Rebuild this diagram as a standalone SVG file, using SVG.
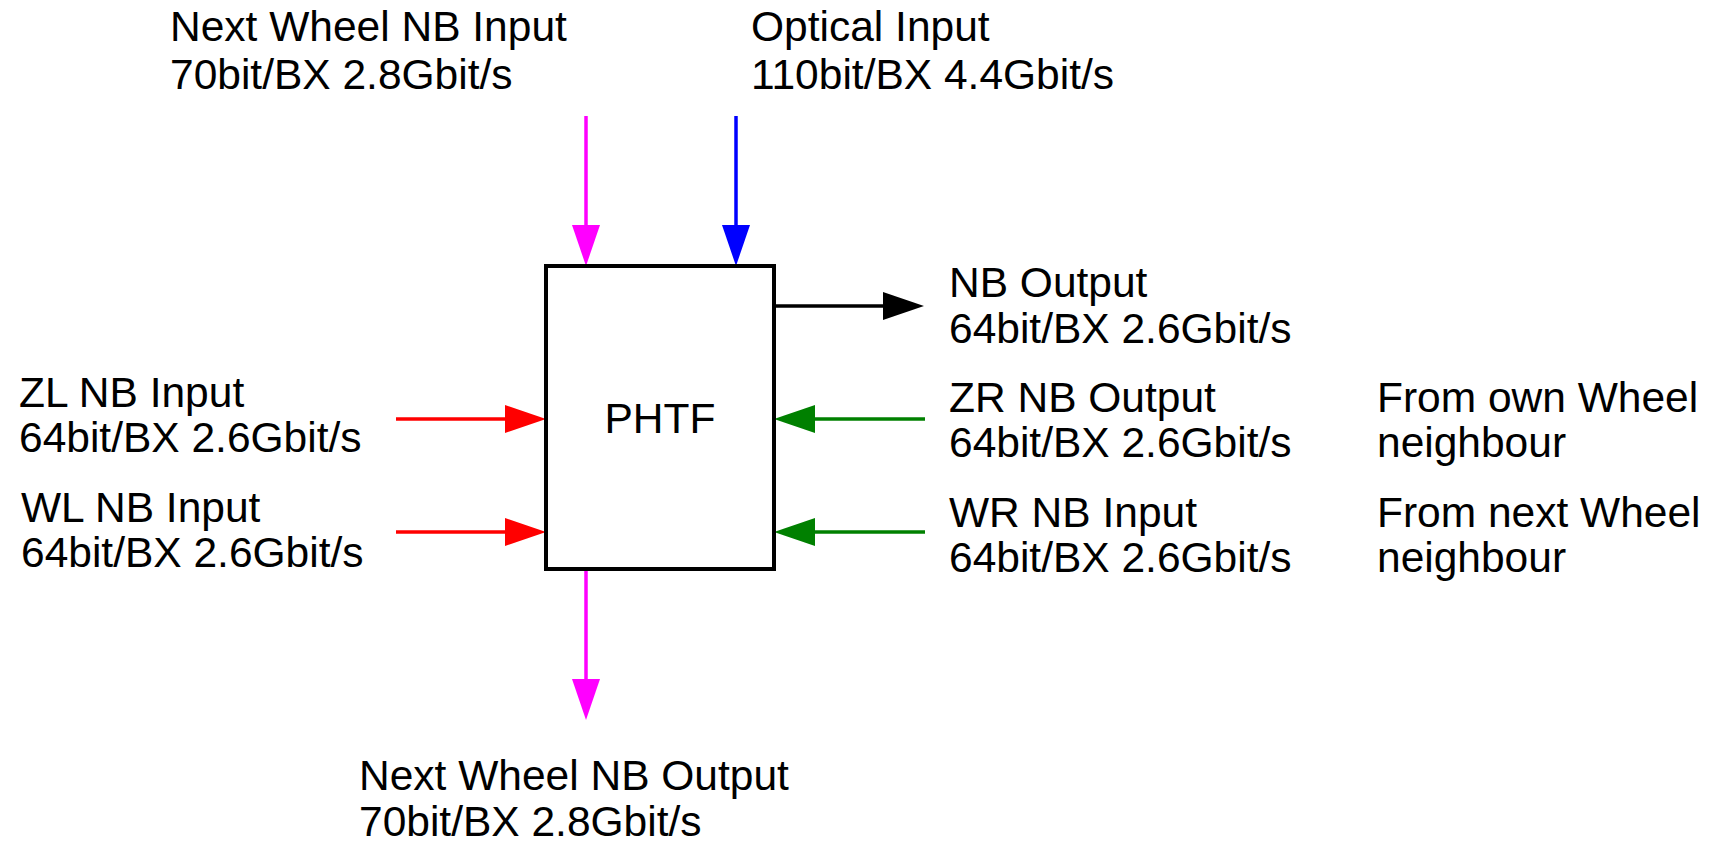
<svg xmlns="http://www.w3.org/2000/svg" width="1720" height="842" viewBox="0 0 1720 842">
<style>
text { font-family: "Liberation Sans", Arial, sans-serif; font-size: 42.5px; fill: #000; }
.c { fill: none; stroke-width: 3.5; }
.box { fill: #fff; stroke: #000; stroke-width: 4; }
</style>
<defs>
<marker id="hm" markerUnits="userSpaceOnUse" markerWidth="42" markerHeight="28" refX="3" refY="14" orient="auto" viewBox="0 0 42 28"><path d="M0,0 L41,14 L0,28 z" fill="#FF00FF"/></marker>
<marker id="hb" markerUnits="userSpaceOnUse" markerWidth="42" markerHeight="28" refX="3" refY="14" orient="auto" viewBox="0 0 42 28"><path d="M0,0 L41,14 L0,28 z" fill="#0000FF"/></marker>
<marker id="hk" markerUnits="userSpaceOnUse" markerWidth="42" markerHeight="28" refX="3" refY="14" orient="auto" viewBox="0 0 42 28"><path d="M0,0 L41,14 L0,28 z" fill="#000000"/></marker>
<marker id="hr" markerUnits="userSpaceOnUse" markerWidth="42" markerHeight="28" refX="3" refY="14" orient="auto" viewBox="0 0 42 28"><path d="M0,0 L41,14 L0,28 z" fill="#FF0000"/></marker>
<marker id="hg" markerUnits="userSpaceOnUse" markerWidth="42" markerHeight="28" refX="3" refY="14" orient="auto" viewBox="0 0 42 28"><path d="M0,0 L41,14 L0,28 z" fill="#008000"/></marker>
</defs>
<rect width="1720" height="842" fill="#fff"/>
<g id="connectors">
<line class="c" x1="586" y1="116" x2="586" y2="228" stroke="#FF00FF" marker-end="url(#hm)"/>
<line class="c" x1="736" y1="116" x2="736" y2="228" stroke="#0000FF" marker-end="url(#hb)"/>
<line class="c" x1="774" y1="306" x2="886" y2="306" stroke="#000000" marker-end="url(#hk)"/>
<line class="c" x1="396" y1="419" x2="508" y2="419" stroke="#FF0000" marker-end="url(#hr)"/>
<line class="c" x1="396" y1="532" x2="508" y2="532" stroke="#FF0000" marker-end="url(#hr)"/>
<line class="c" x1="925" y1="419" x2="812" y2="419" stroke="#008000" marker-end="url(#hg)"/>
<line class="c" x1="925" y1="532" x2="812" y2="532" stroke="#008000" marker-end="url(#hg)"/>
<line class="c" x1="586" y1="570" x2="586" y2="682" stroke="#FF00FF" marker-end="url(#hm)"/>
</g>
<g id="phtf">
<rect class="box" x="546" y="266" width="228" height="303"/>
<text x="660" y="433" text-anchor="middle">PHTF</text>
</g>
<g id="next-wheel-nb-input"><text x="170" y="41">Next Wheel NB Input</text><text x="170" y="89">70bit/BX 2.8Gbit/s</text></g>
<g id="optical-input"><text x="751" y="41">Optical Input</text><text x="751" y="89">110bit/BX 4.4Gbit/s</text></g>
<g id="nb-output"><text x="949" y="297">NB Output</text><text x="949" y="343">64bit/BX 2.6Gbit/s</text></g>
<g id="zr-nb-output"><text x="949" y="412">ZR NB Output</text><text x="949" y="457">64bit/BX 2.6Gbit/s</text></g>
<g id="wr-nb-input"><text x="949" y="527">WR NB Input</text><text x="949" y="572">64bit/BX 2.6Gbit/s</text></g>
<g id="own-wheel-note"><text x="1377" y="412">From own Wheel</text><text x="1377" y="457">neighbour</text></g>
<g id="next-wheel-note"><text x="1377" y="527">From next Wheel</text><text x="1377" y="572">neighbour</text></g>
<g id="zl-nb-input"><text x="19" y="407">ZL NB Input</text><text x="19" y="452">64bit/BX 2.6Gbit/s</text></g>
<g id="wl-nb-input"><text x="21" y="522">WL NB Input</text><text x="21" y="567">64bit/BX 2.6Gbit/s</text></g>
<g id="next-wheel-nb-output"><text x="359" y="790">Next Wheel NB Output</text><text x="359" y="836">70bit/BX 2.8Gbit/s</text></g>
</svg>
